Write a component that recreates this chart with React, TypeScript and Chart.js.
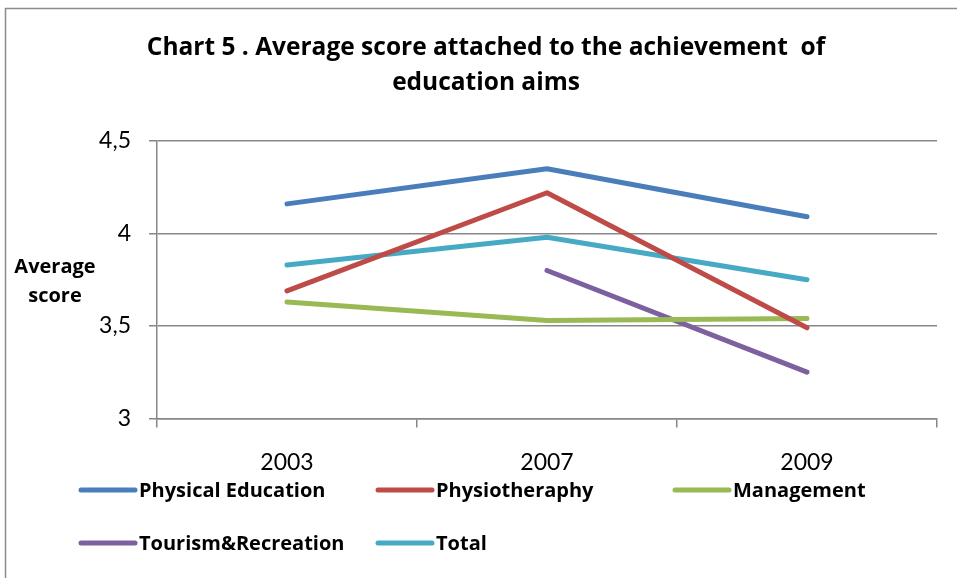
import React, { useEffect, useRef } from "react";
import { Chart, registerables } from "chart.js";

Chart.register(...registerables);

const years = ["2003", "2007", "2009"];
const physicalEducation = [4.16, 4.35, 4.09];
const physiotherapy = [3.69, 4.22, 3.49];
const management = [3.63, 3.53, 3.54];
const tourismRecreation = [null, 3.8, 3.25];
const total = [3.83, 3.98, 3.75];

const seriesNames = [
  "Physical Education",
  "Physiotheraphy",
  "Management",
  "Tourism&Recreation",
  "Total",
];
const seriesColors = ["#4A7EBB", "#BE4B48", "#98B954", "#7D60A0", "#46AAC5"];

const titleLines = [
  "Chart 5 . Average score attached to the achievement  of",
  "education aims",
];
const yTitleLines = ["Average", "score"];

const FONT = "Lato, 'Open Sans', 'Liberation Sans', sans-serif";
const BOLD_FONT = "'Open Sans', Lato, 'Liberation Sans', sans-serif";
const GRID = "#878787";

const decorations = {
  id: "decorations",
  beforeDraw(chart: any) {
    const ctx = chart.ctx;
    ctx.save();
    ctx.fillStyle = "#ffffff";
    ctx.fillRect(0, 0, chart.width, chart.height);
    ctx.strokeStyle = "#8c8c8c";
    ctx.lineWidth = 1.5;
    ctx.strokeRect(5.5, 8.5, chart.width + 20, chart.height + 20);
    ctx.restore();
  },
  afterDraw(chart: any) {
    const ctx = chart.ctx;
    ctx.save();
    ctx.fillStyle = "#000000";
    ctx.textAlign = "center";
    ctx.textBaseline = "middle";

    // chart title
    ctx.font = `bold 24.5px ${BOLD_FONT}`;
    ctx.fillText(titleLines[0], 486, 48);
    ctx.fillText(titleLines[1], 486, 83);

    // horizontal y-axis title
    ctx.font = `bold 20px ${BOLD_FONT}`;
    ctx.fillText(yTitleLines[0], 55, 267);
    ctx.fillText(yTitleLines[1], 55, 296);

    // legend in a three-column grid
    ctx.textAlign = "left";
    ctx.font = `bold 20px ${BOLD_FONT}`;
    chart.data.datasets.forEach((ds: any, i: number) => {
      const col = i % 3;
      const row = Math.floor(i / 3);
      const x0 = 81 + col * 297;
      const y = 490 + row * 53;
      ctx.strokeStyle = ds.borderColor;
      ctx.lineWidth = 5;
      ctx.lineCap = "round";
      ctx.beginPath();
      ctx.moveTo(x0, y);
      ctx.lineTo(x0 + 54, y);
      ctx.stroke();
      ctx.fillStyle = "#000000";
      ctx.fillText(ds.label, x0 + 58, y + 1);
    });
    ctx.restore();
  },
};

export default function App() {
  const canvasRef = useRef<HTMLCanvasElement | null>(null);

  useEffect(() => {
    if (!canvasRef.current) return;
    const seriesData = [
      physicalEducation,
      physiotherapy,
      management,
      tourismRecreation,
      total,
    ];
    const chart = new Chart(canvasRef.current, {
      type: "line",
      data: {
        labels: years,
        datasets: seriesData.map((d, i) => ({
          label: seriesNames[i],
          data: d,
          borderColor: seriesColors[i],
          backgroundColor: seriesColors[i],
          borderWidth: 5,
          borderCapStyle: "round",
          borderJoinStyle: "round",
          pointRadius: 0,
          pointHoverRadius: 0,
          tension: 0,
          fill: false,
        })),
      },
      options: {
        responsive: false,
        animation: false,
        devicePixelRatio: 1,
        layout: { padding: { left: 60, right: 20, top: 141, bottom: 81 } },
        plugins: {
          legend: { display: false },
          title: { display: false },
          tooltip: { enabled: false },
        },
        scales: {
          x: {
            type: "category",
            offset: true,
            grid: {
              display: true,
              offset: true,
              drawOnChartArea: false,
              drawTicks: true,
              tickLength: 9,
              color: GRID,
              lineWidth: 1.5,
            },
            border: { display: true, color: GRID, width: 1.5 },
            ticks: {
              color: "#000000",
              font: { family: FONT, size: 23 },
              padding: 21,
              maxRotation: 0,
            },
          },
          y: {
            type: "linear",
            min: 3,
            max: 4.5,
            afterFit: (scale: any) => {
              scale.width = 97;
            },
            grid: {
              display: true,
              drawTicks: true,
              tickLength: 8,
              color: GRID,
              lineWidth: 1.5,
            },
            border: { display: true, color: GRID, width: 1.5 },
            ticks: {
              stepSize: 0.5,
              color: "#000000",
              font: { family: FONT, size: 23 },
              padding: 18,
              callback: (v: any) => String(v).replace(".", ","),
            },
          },
        },
      },
      plugins: [decorations],
    });
    return () => chart.destroy();
  }, []);

  return (
    <div style={{ position: "absolute", left: 0, top: 0, width: 957, height: 578, overflow: "hidden" }}>
      <canvas ref={canvasRef} width={957} height={578} />
    </div>
  );
}
